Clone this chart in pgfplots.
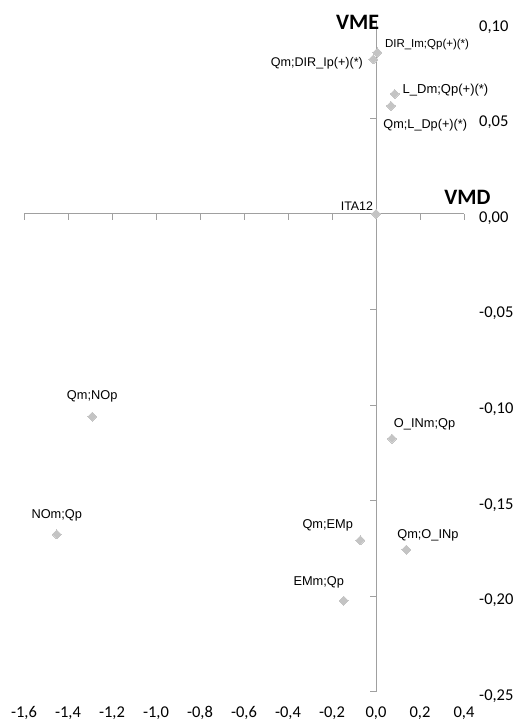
\documentclass[border=0pt]{standalone}
\usepackage{pgfplots}
\pgfplotsset{compat=1.18}
\usepackage{fontspec}
\setmainfont{Carlito}
\newfontfamily\arial{Liberation Sans}
\definecolor{axcol}{HTML}{A0A0A0}
\definecolor{mkcol}{HTML}{C4C4C4}

\begin{document}
\begin{tikzpicture}
\path[use as bounding box] (0,0) rectangle (515bp,726bp);
\begin{axis}[
  at={(24bp,34.3bp)}, anchor=south west, scale only axis,
  width=440bp, height=669bp,
  xmin=-1.6, xmax=0.4, ymin=-0.25, ymax=0.10,
  axis lines=middle,
  axis line style={axcol, line width=0.8bp, -},
  xtick={-1.6,-1.4,-1.2,-1.0,-0.8,-0.6,-0.4,-0.2,0,0.2,0.4},
  ytick={-0.25,-0.2,-0.15,-0.1,-0.05,0,0.05,0.1},
  xticklabels={}, yticklabels={},
  major tick length=6bp,
  tick style={axcol, line width=0.8bp},
  tick align=outside,
  clip=false,
]
\addplot[color=mkcol, only marks, mark=square*, mark size=3.2bp,
  mark options={rotate=45, fill=mkcol, draw=mkcol, line width=0pt},
  nodes near coords, point meta=explicit symbolic,
  visualization depends on={value \thisrow{anc}\as\labanc},
  visualization depends on={\thisrow{dx}\as\labdx},
  visualization depends on={\thisrow{dy}\as\labdy},
  visualization depends on={\thisrow{fs}\as\labfs},
  every node near coord/.append style={anchor=\labanc, xshift=\labdx bp, yshift=\labdy bp,
    inner sep=0pt, text=black, font=\arial\fontsize{\labfs bp}{\labfs bp}\selectfont},
] table[x=x, y=y, meta=lbl] {
x y lbl anc dx dy fs
0.006 0.0844 DIR\_Im;Qp(+)(*) west 7.7 8 11.5
-0.012 0.0809 Qm;DIR\_Ip(+)(*) east -10.5 -3.7 12.6
0.085 0.0627 L\_Dm;Qp(+)(*) west 8 4 13.0
0.068 0.0565 Qm;L\_Dp(+)(*) west -7.5 -19 12.7
0.0 0.0 ITA12 east -3 8 12.4
-1.290 -0.1061 Qm;NOp center 0 20 12.8
-1.451 -0.1677 NOm;Qp center 0 18.6 12.8
0.0727 -0.1176 O\_INm;Qp west 2 14.7 12.8
-0.0714 -0.1708 Qm;EMp east -7.3 14.6 12.8
0.1377 -0.1757 Qm;O\_INp west -9 14.7 12.8
-0.1468 -0.2024 EMm;Qp east 0.3 18.4 12.8
};
\node[font=\bfseries\fontsize{22bp}{24bp}\selectfont, inner sep=0pt] at (axis cs:-0.084,0.1000) {VME};
\node[font=\bfseries\fontsize{22bp}{24bp}\selectfont, inner sep=0pt] at (axis cs:0.416,0.0088) {VMD};
\end{axis}
\begin{axis}[
  at={(24bp,34.3bp)}, anchor=south west, scale only axis,
  width=440bp, height=669bp,
  xmin=-1.6, xmax=0.4, ymin=-0.25, ymax=0.10,
  axis x line*=bottom, axis y line*=right,
  axis line style={draw=none},
  major tick style={draw=none},
  xtick={-1.6,-1.4,-1.2,-1.0,-0.8,-0.6,-0.4,-0.2,0,0.2,0.4},
  ytick={-0.25,-0.2,-0.15,-0.1,-0.05,0,0.05,0.1},
  xticklabels={{-1,6},{-1,4},{-1,2},{-1,0},{-0,8},{-0,6},{-0,4},{-0,2},{0,0},{0,2},{0,4}},
  yticklabels={{-0,25},{-0,20},{-0,15},{-0,10},{-0,05},{0,00},{0,05},{0,10}},
  ticklabel style={font=\fontsize{16.5bp}{18bp}\selectfont, inner sep=0pt, text=black},
  xticklabel style={anchor=base, yshift=-25.5bp},
  yticklabel style={anchor=base west, xshift=15bp, yshift=-8.5bp},
  clip=false,
]
\end{axis}
\end{tikzpicture}
\end{document}
